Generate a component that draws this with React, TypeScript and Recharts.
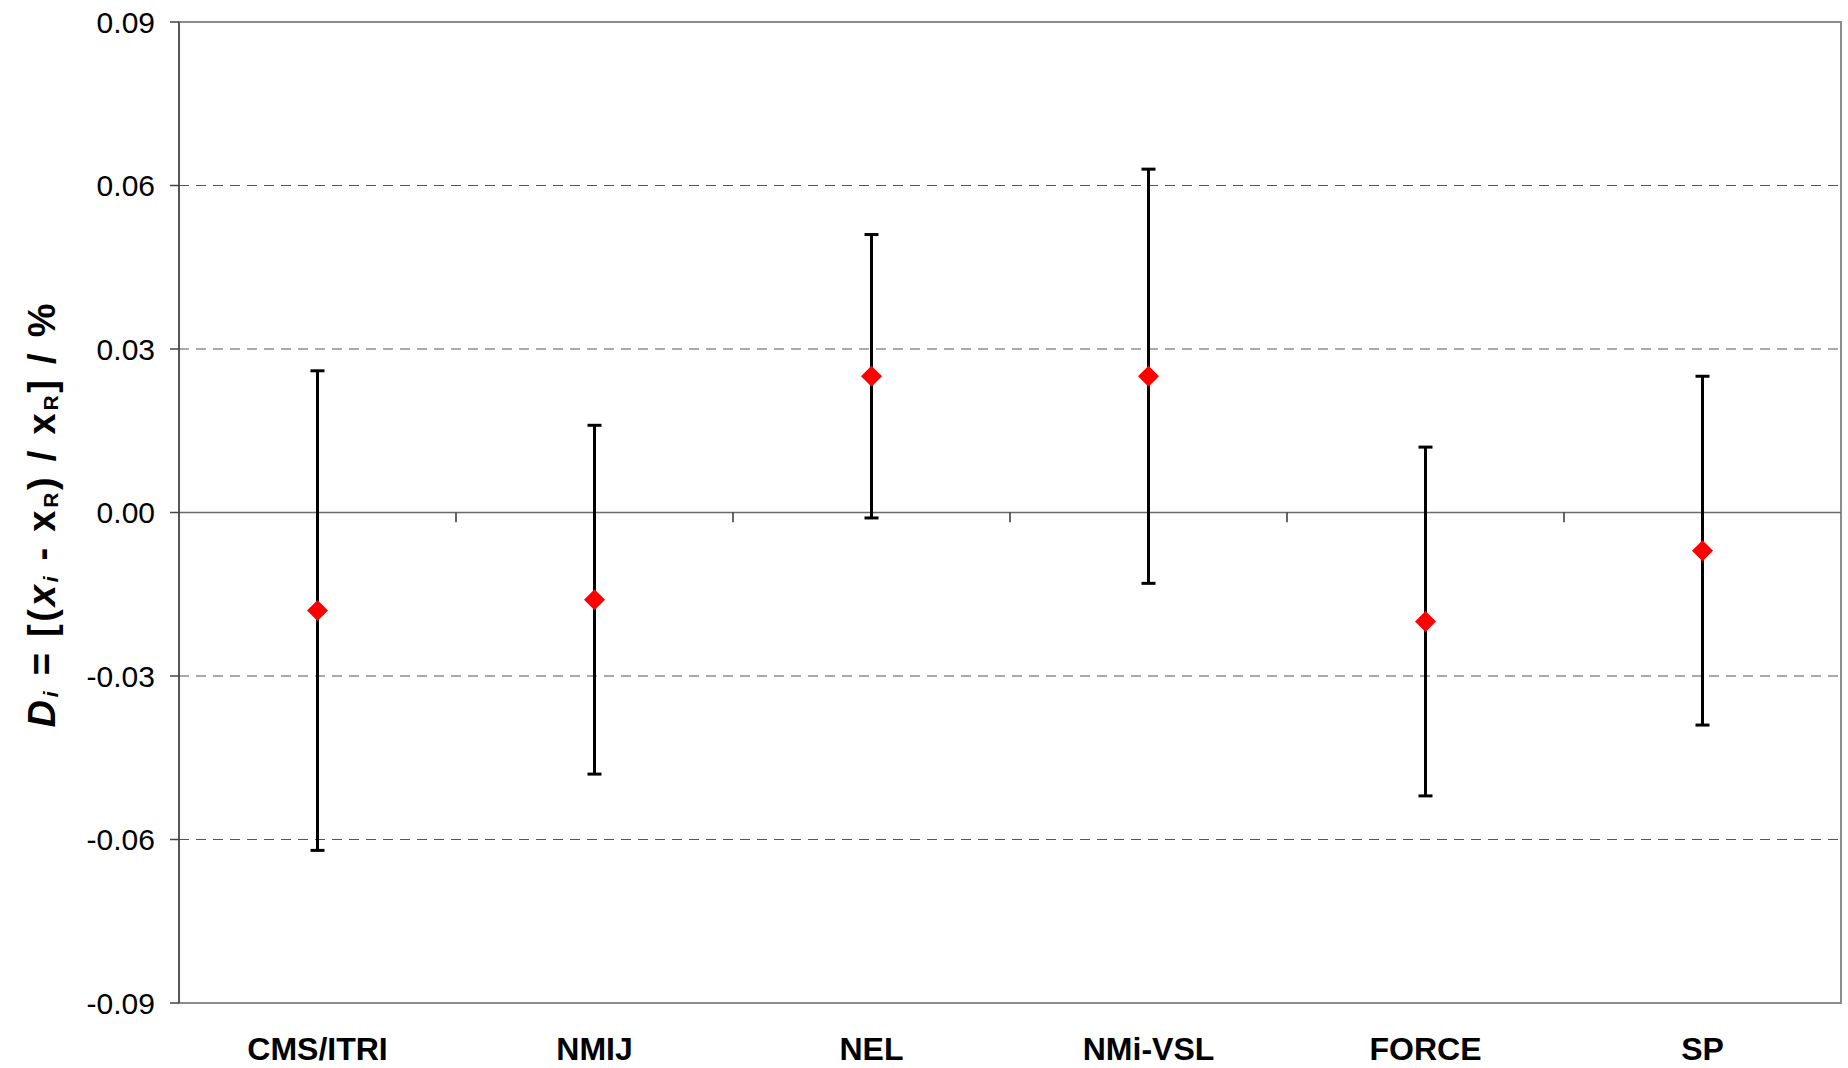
import React from "react";
import {
  ErrorBar,
  Label,
  ReferenceArea,
  ReferenceLine,
  Scatter,
  ScatterChart,
  XAxis,
  YAxis,
} from "recharts";

const categories = ["CMS/ITRI", "NMIJ", "NEL", "NMi-VSL", "FORCE", "SP"];
const diValues = [-0.018, -0.016, 0.025, 0.025, -0.02, -0.007];
const uncertainties = [0.044, 0.032, 0.026, 0.038, 0.032, 0.032];
const yTicks = [-0.09, -0.06, -0.03, 0, 0.03, 0.06, 0.09];
const dashedLevels = [-0.06, -0.03, 0.03, 0.06];

const data = categories.map((name, i) => ({
  pos: i + 0.5,
  name,
  di: diValues[i],
  u: uncertainties[i],
}));
const categoryTicks = data.map((d) => d.pos);
const boundaries = categories.slice(1).map((_, i) => i + 1);

const FONT = "'Liberation Sans', Arial, sans-serif";

function Diamond(props: any) {
  const { cx, cy } = props;
  const r = 10.5;
  return (
    <polygon
      points={`${cx},${cy - r} ${cx + r},${cy} ${cx},${cy + r} ${cx - r},${cy}`}
      fill="#ff0000"
    />
  );
}

function AxisTitle(props: any) {
  const { viewBox } = props;
  const cx = 55;
  const cy = viewBox.y + viewBox.height / 2 + 3;
  return (
    <text
      x={cx}
      y={cy}
      transform={`rotate(-90, ${cx}, ${cy})`}
      textAnchor="middle"
      fontFamily={FONT}
      fontWeight="bold"
      fontSize={38}
      fill="#000"
      textLength={424}
      lengthAdjust="spacing"
    >
      <tspan fontStyle="italic">D</tspan>
      <tspan fontStyle="italic" fontSize={21} dy={3}>i</tspan>
      <tspan dy={-3}> = [(</tspan>
      <tspan fontStyle="italic">x</tspan>
      <tspan fontStyle="italic" fontSize={21} dy={3}>i</tspan>
      <tspan dy={-3}> - x</tspan>
      <tspan fontSize={21} dy={3}>R</tspan>
      <tspan dy={-3}>) / x</tspan>
      <tspan fontSize={21} dy={3}>R</tspan>
      <tspan dy={-3}>] / %</tspan>
    </text>
  );
}

export default function App() {
  return (
    <div style={{ width: 1848, height: 1068, background: "#fff" }}>
      <style>{"body{margin:0;}"}</style>
      <ScatterChart
        width={1848}
        height={1068}
        margin={{ top: 22, right: 7, bottom: 0, left: 0 }}
        style={{ fontFamily: FONT }}
      >
        <XAxis
          type="number"
          dataKey="pos"
          domain={[0, 6]}
          ticks={categoryTicks}
          interval={0}
          tickFormatter={(v: number) => categories[Math.floor(v)]}
          axisLine={false}
          tickLine={false}
          tickSize={6}
          tickMargin={28}
          height={65}
          tick={{ fontSize: 32, fontWeight: "bold", fill: "#000", fontFamily: FONT }}
        />
        <YAxis
          type="number"
          dataKey="di"
          domain={[-0.09, 0.09]}
          ticks={yTicks}
          interval={0}
          width={179}
          tickFormatter={(v: number) => v.toFixed(2)}
          axisLine={{ stroke: "#444", strokeWidth: 1.5 }}
          tickLine={{ stroke: "#444", strokeWidth: 1.5 }}
          tickSize={9}
          tickMargin={15}
          tick={{ fontSize: 30, fill: "#000", fontFamily: FONT }}
        >
          <Label content={<AxisTitle />} />
        </YAxis>
        <ReferenceArea
          x1={0}
          x2={6}
          y1={-0.09}
          y2={0.09}
          fill="none"
          stroke="#8c8c8c"
          strokeWidth={2}
        />
        {dashedLevels.map((v) => (
          <ReferenceLine
            key={v}
            y={v}
            stroke="#555"
            strokeWidth={1}
            strokeDasharray="10 7"
          />
        ))}
        <ReferenceLine y={0} stroke="#6a6a6a" strokeWidth={1.5} />
        {boundaries.map((b) => (
          <ReferenceLine
            key={b}
            segment={[
              { x: b, y: 0 },
              { x: b, y: -0.0018 },
            ]}
            stroke="#333"
            strokeWidth={1.5}
          />
        ))}
        <Scatter data={data} dataKey="di" shape={<Diamond />} isAnimationActive={false}>
          <ErrorBar
            dataKey="u"
            direction="y"
            width={7}
            stroke="#000"
            strokeWidth={3}
            isAnimationActive={false}
          />
        </Scatter>
      </ScatterChart>
    </div>
  );
}
